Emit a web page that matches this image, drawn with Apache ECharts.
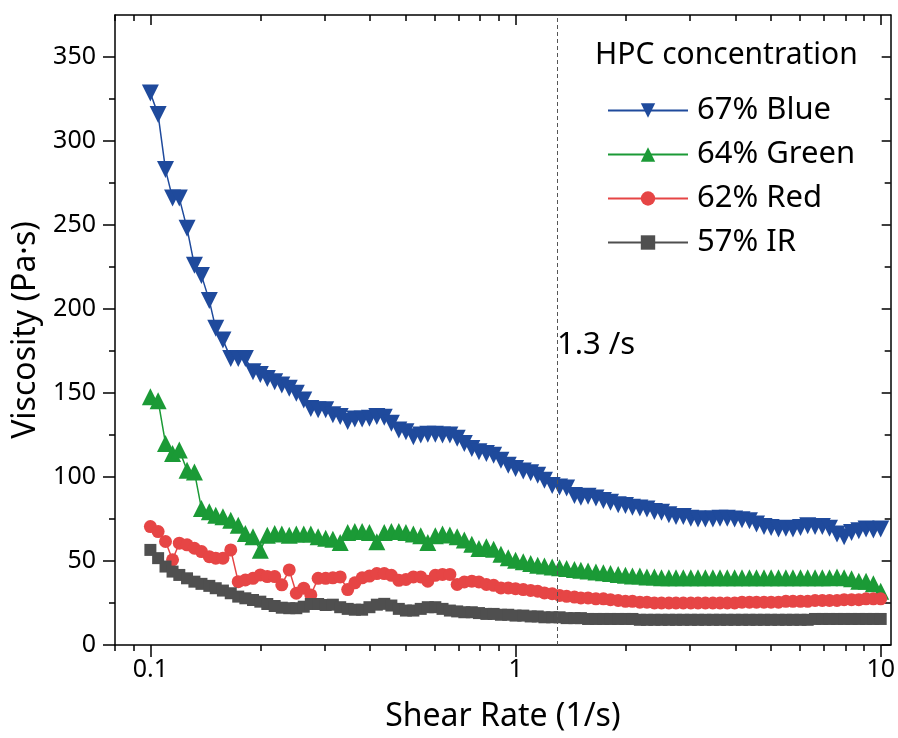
<!DOCTYPE html>
<html>
<head>
<meta charset="utf-8">
<title>Viscosity vs shear rate</title>
<script src="https://cdn.jsdelivr.net/npm/echarts@6/dist/echarts.min.js"></script>
<style>
  html, body { margin: 0; padding: 0; background: #fff; }
  #chart-div { width: 898px; height: 738px; }
</style>
</head>
<body>
<div id="chart-div"></div>
<script>
// shear rate (1/s), 50 points per decade
const shearRate = [0.1, 0.105, 0.11, 0.115, 0.12, 0.126, 0.132, 0.138, 0.145, 0.151,
  0.158, 0.166, 0.174, 0.182, 0.191, 0.2, 0.209, 0.219, 0.229, 0.24,
  0.251, 0.263, 0.275, 0.288, 0.302, 0.316, 0.331, 0.347, 0.363, 0.38,
  0.398, 0.417, 0.437, 0.457, 0.479, 0.501, 0.525, 0.55, 0.575, 0.603,
  0.631, 0.661, 0.692, 0.724, 0.759, 0.794, 0.832, 0.871, 0.912, 0.955,
  1, 1.05, 1.1, 1.15, 1.2, 1.26, 1.32, 1.38, 1.45, 1.51,
  1.58, 1.66, 1.74, 1.82, 1.91, 2, 2.09, 2.19, 2.29, 2.4,
  2.51, 2.63, 2.75, 2.88, 3.02, 3.16, 3.31, 3.47, 3.63, 3.8,
  3.98, 4.17, 4.37, 4.57, 4.79, 5.01, 5.25, 5.5, 5.75, 6.03,
  6.31, 6.61, 6.92, 7.24, 7.59, 7.94, 8.32, 8.71, 9.12, 9.55, 10];

const blue67 = [328.5, 315.7, 283, 266, 266, 248, 226, 220, 205, 188.5,
  181.6, 170.6, 170.6, 170.6, 162.7, 161, 158.7, 156.7, 154.8, 152.8,
  149.8, 145.8, 140.8, 140, 140, 137, 136, 133, 134.5, 134.5,
  135, 136, 135.5, 132, 128, 127, 124, 125, 125.5, 125.5,
  125, 125, 123, 120, 117, 115, 114, 113, 110, 107,
  105, 103.5, 102.5, 101, 98, 95, 94, 93.5, 89, 88,
  88.5, 87.5, 86, 85, 83.5, 83, 82, 81.5, 81, 79.5,
  79, 77.5, 76.5, 76.5, 75.5, 75, 75, 75, 75.5, 75.5,
  75, 74.5, 74, 72, 70.5, 70, 69, 69.5, 69, 70,
  71, 70.5, 70.5, 69.5, 66, 64.5, 67, 68, 69, 68.5, 69];

const green64 = [147.8, 145.4, 120, 114, 116, 104, 103, 81.2, 79.3, 77.3,
  76.3, 74.3, 71.3, 66.3, 64.4, 56.4, 65.4, 66.3, 66, 65.4,
  66, 66, 66, 64.5, 63.5, 63, 61, 67, 67.5, 67.5,
  67, 61.5, 67, 67.5, 67.5, 67, 66, 65, 61, 65,
  66, 65.5, 64.5, 62.5, 60, 57.5, 58.5, 57, 54, 52,
  50.5, 49.5, 48.5, 47.5, 47, 46.5, 46, 45.5, 45, 44.5,
  44, 43.5, 43, 42.5, 42, 41.5, 41, 41, 40.5, 40.5,
  40, 40, 40, 40, 40, 40, 40, 40, 40, 40,
  40, 40, 40, 40, 40, 40, 40, 40, 40, 40,
  40, 40, 40, 40, 40.5, 40, 39.5, 38, 38, 36.5, 32];

const red62 = [70.5, 67.5, 61.6, 50.7, 60.6, 59.6, 57.6, 55.6, 52.6, 51.7,
  51.7, 56.6, 37.7, 38.7, 39.7, 41.7, 40.7, 40.7, 35.8, 44.7,
  30.8, 33.8, 29.8, 39.7, 39.7, 40, 40.5, 33, 37, 40,
  41, 42.5, 42.5, 41.5, 38.5, 39, 40.5, 40.5, 38, 41.5,
  42, 42, 36, 37.5, 38, 37.5, 36, 35.5, 34, 34,
  33.5, 33, 32.5, 32, 31, 30.5, 29.5, 29, 28.5, 28,
  28, 27.5, 27.5, 27, 26.5, 26, 26, 25.5, 25.5, 25,
  25, 25, 25, 25, 25, 25, 25, 25, 25, 25,
  25, 25.5, 25.5, 25.5, 25.5, 25.5, 25.5, 26, 26, 26,
  26, 26.5, 26.5, 26.5, 26.5, 27, 27, 27, 27.5, 27.5, 27.5];

const ir57 = [56.6, 51.7, 46.7, 43.7, 41.7, 39.7, 37.7, 36.4, 35.2, 33.8,
  32.4, 30.8, 28.8, 27.8, 26.8, 25.8, 24.4, 23.2, 22.2, 21.9,
  21.9, 22.8, 24.4, 24.4, 23.8, 24, 22.5, 21.5, 21, 21,
  22.5, 24, 24.5, 23.5, 21.5, 20.5, 20.5, 21.5, 22.5, 22.5,
  21.5, 20.5, 20, 19.5, 19.5, 19, 18.5, 18.5, 18, 18,
  17.5, 17.5, 17, 17, 16.5, 16.5, 16.5, 16, 16, 16,
  15.5, 15.5, 15.5, 15.5, 15.5, 15.5, 15.5, 15, 15, 15,
  15, 15, 15, 15, 15, 15, 15, 15, 15, 15,
  15, 15, 15, 15, 15, 15, 15, 15, 15, 15,
  15, 15.5, 15.5, 15.5, 15.5, 15.5, 15.5, 15.5, 15.5, 15.5, 15.5];

const seriesNames = ['67% Blue', '64% Green', '62% Red', '57% IR'];
const xMajor = [0.1, 1, 10];
const xMinor = [0.08, 0.09, 0.2, 0.3, 0.4, 0.5, 0.6, 0.7, 0.8, 0.9, 2, 3, 4, 5, 6, 7, 8, 9];
const yMajor = [0, 50, 100, 150, 200, 250, 300, 350];
const yMinor = [25, 75, 125, 175, 225, 275, 325];
const markRate = 1.3;

const FONT = 'Noto Sans';
const axisColor = '#000';

var myChart = echarts.init(document.getElementById('chart-div'), null, { renderer: 'canvas' });

const pair = ys => shearRate.map((x, i) => [x, ys[i]]);

// one axis per tick set: major / minor, bottom+left outward, top+right inward
const xAx = (position, ticks, len, inside, extra) => Object.assign({
  type: 'log',
  logBase: 10,
  min: 0.08,
  max: 10.65,
  position,
  axisLine: { show: false, onZero: false },
  axisTick: { show: true, customValues: ticks, length: len, inside, lineStyle: { color: axisColor, width: 1.5 } },
  axisLabel: { show: false },
  splitLine: { show: false },
}, extra);

const yAx = (position, ticks, len, inside, extra) => Object.assign({
  type: 'value',
  min: 0,
  max: 375,
  position,
  axisLine: { show: false, onZero: false },
  axisTick: { show: true, customValues: ticks, length: len, inside, lineStyle: { color: axisColor, width: 1.5 } },
  axisLabel: { show: false },
  splitLine: { show: false },
}, extra);

const boxLine = { show: true, onZero: false, lineStyle: { color: axisColor, width: 1.5 } };

const lineSeries = (name, ys, color, symbol, size, rotate) => ({
  name,
  type: 'line',
  data: pair(ys),
  symbol,
  symbolSize: size,
  symbolRotate: rotate || 0,
  showSymbol: true,
  lineStyle: { color, width: 1.5 },
  itemStyle: { color },
  emphasis: { disabled: true },
});

const series = [
  lineSeries(seriesNames[0], blue67, '#1f4a9c', 'triangle', 17, 180),
  lineSeries(seriesNames[1], green64, '#1b9a36', 'triangle', 17),
  lineSeries(seriesNames[2], red62, '#e64545', 'circle', 13),
  lineSeries(seriesNames[3], ir57, '#4f4f4f', 'rect', 12),
];
series[0].markLine = {
  silent: true,
  symbol: 'none',
  label: { show: false },
  lineStyle: { color: '#555', width: 1, type: [4, 3] },
  data: [{ xAxis: markRate }],
};

myChart.setOption({
  backgroundColor: '#fff',
  animation: false,
  title: {
    text: 'HPC concentration',
    left: 595,
    top: 40,
    padding: 0,
    textStyle: { fontFamily: FONT, fontSize: 30, fontWeight: 'normal', color: '#000' },
  },
  legend: {
    data: seriesNames,
    orient: 'vertical',
    left: 607,
    top: 95,
    itemWidth: 80,
    itemHeight: 18,
    itemGap: 13,
    padding: 0,
    textStyle: { fontFamily: FONT, fontSize: 31, lineHeight: 30, color: '#000', padding: [0, 0, 0, 4] },
  },
  grid: { left: 115, right: 5, top: 15, bottom: 93, containLabel: false },
  xAxis: [
    xAx('bottom', xMajor, 12, false, {
      axisLine: boxLine,
      axisLabel: {
        show: true,
        customValues: xMajor,
        formatter: v => String(+(+v).toPrecision(3)),
        fontFamily: FONT,
        fontSize: 25,
        color: '#000',
        margin: 12,
      },
      name: 'Shear Rate (1/s)',
      nameLocation: 'middle',
      nameGap: 56,
      nameTextStyle: { fontFamily: FONT, fontSize: 32, color: '#000' },
    }),
    xAx('bottom', xMinor, 6, false),
    xAx('top', xMajor, 10, true, { axisLine: boxLine }),
    xAx('top', xMinor, 6, true),
  ],
  yAxis: [
    yAx('left', yMajor, 12, false, {
      axisLine: boxLine,
      axisLabel: {
        show: true,
        customValues: yMajor,
        fontFamily: FONT,
        fontSize: 25,
        color: '#000',
        margin: 19,
      },
      name: 'Viscosity (Pa·s)',
      nameLocation: 'middle',
      nameGap: 63,
      nameTextStyle: { fontFamily: FONT, fontSize: 32, color: '#000' },
    }),
    yAx('left', yMinor, 6, false),
    yAx('right', yMajor, 9, true, { axisLine: boxLine }),
    yAx('right', yMinor, 6, true),
  ],
  graphic: [
    {
      type: 'text',
      left: 557,
      top: 330,
      style: { text: '1.3 /s', fontFamily: FONT, fontSize: 31, fill: '#000' },
    },
  ],
  series,
});
window.addEventListener('resize', myChart.resize);
</script>
</body>
</html>
